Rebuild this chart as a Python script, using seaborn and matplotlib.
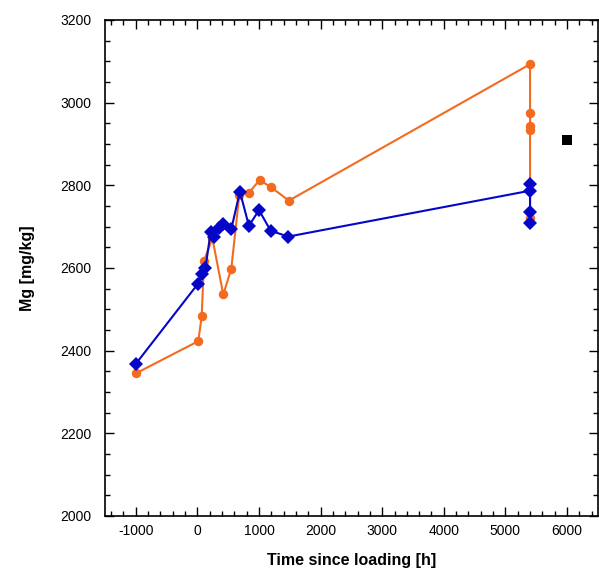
import matplotlib
matplotlib.use("Agg")
import matplotlib.pyplot as plt
import seaborn as sns
import pandas as pd
from matplotlib.ticker import MultipleLocator

# ---- data ----
orange_t = [-1000, 15, 70, 108, 243, 420, 550, 680, 836, 1010, 1199, 1485,
            5400, 5400, 5400, 5400, 5400]
orange_mg = [2345, 2423, 2484, 2618, 2672, 2536, 2598, 2777, 2782, 2813, 2795, 2763,
             3093, 2976, 2943, 2935, 2722]

blue_t = [-1000, 10, 75, 130, 215, 270, 350, 420, 550, 690, 836, 1000, 1190, 1475,
          5400, 5400, 5400, 5400]
blue_mg = [2368, 2562, 2585, 2599, 2688, 2676, 2696, 2706, 2694, 2785, 2702, 2740, 2690, 2676,
           2787, 2804, 2736, 2710]

ref_t = [6000]
ref_mg = [2910]

xlabel = "Time since loading [h]"
ylabel = "Mg [mg/kg]"

ORANGE = "#F36B1F"
BLUE = "#0606C8"

sns.set_style("white")
plt.rcParams["font.family"] = ["Liberation Sans", "DejaVu Sans"]
plt.rcParams["axes.unicode_minus"] = False
plt.rcParams["text.color"] = "black"
plt.rcParams["axes.labelcolor"] = "black"
plt.rcParams["xtick.color"] = "black"
plt.rcParams["ytick.color"] = "black"

fig = plt.figure(figsize=(5.99, 5.73), dpi=100)
ax = fig.add_axes([0.1753, 0.0995, 0.8227, 0.8656])

df_o = pd.DataFrame({"t": orange_t, "mg": orange_mg})
df_b = pd.DataFrame({"t": blue_t, "mg": blue_mg})
df_r = pd.DataFrame({"t": ref_t, "mg": ref_mg})

sns.lineplot(data=df_o, x="t", y="mg", ax=ax, sort=False, estimator=None,
             color=ORANGE, lw=1.5, marker="o", markersize=6.8,
             markeredgewidth=0, markerfacecolor=ORANGE, zorder=2)
sns.lineplot(data=df_b, x="t", y="mg", ax=ax, sort=False, estimator=None,
             color=BLUE, lw=1.5, marker="D", markersize=7.6,
             markeredgewidth=0, markerfacecolor=BLUE, zorder=3)
sns.scatterplot(data=df_r, x="t", y="mg", ax=ax, color="black", marker="s",
                s=50, linewidth=0, zorder=4)

ax.set_xlim(-1500, 6500)
ax.set_ylim(2000, 3200)
ax.xaxis.set_major_locator(MultipleLocator(1000))
ax.xaxis.set_minor_locator(MultipleLocator(200))
ax.yaxis.set_major_locator(MultipleLocator(200))
ax.yaxis.set_minor_locator(MultipleLocator(50))

ax.tick_params(which="both", direction="in", top=True, right=True,
               bottom=True, left=True, color="black", width=1.0,
               labelcolor="black")
ax.tick_params(which="major", length=6.3)
ax.tick_params(which="minor", length=3.6)
ax.tick_params(axis="x", which="major", pad=6, labelsize=10)
ax.tick_params(axis="y", which="major", pad=10, labelsize=10)

for sp in ax.spines.values():
    sp.set_color("black")
    sp.set_linewidth(1.2)

ax.set_xlabel(xlabel, fontsize=11.5, fontweight="bold", labelpad=10.5, color="black")
ax.set_ylabel(ylabel, fontsize=11.5, fontweight="bold", labelpad=18, color="black")

fig.savefig("out.png", dpi=100)
